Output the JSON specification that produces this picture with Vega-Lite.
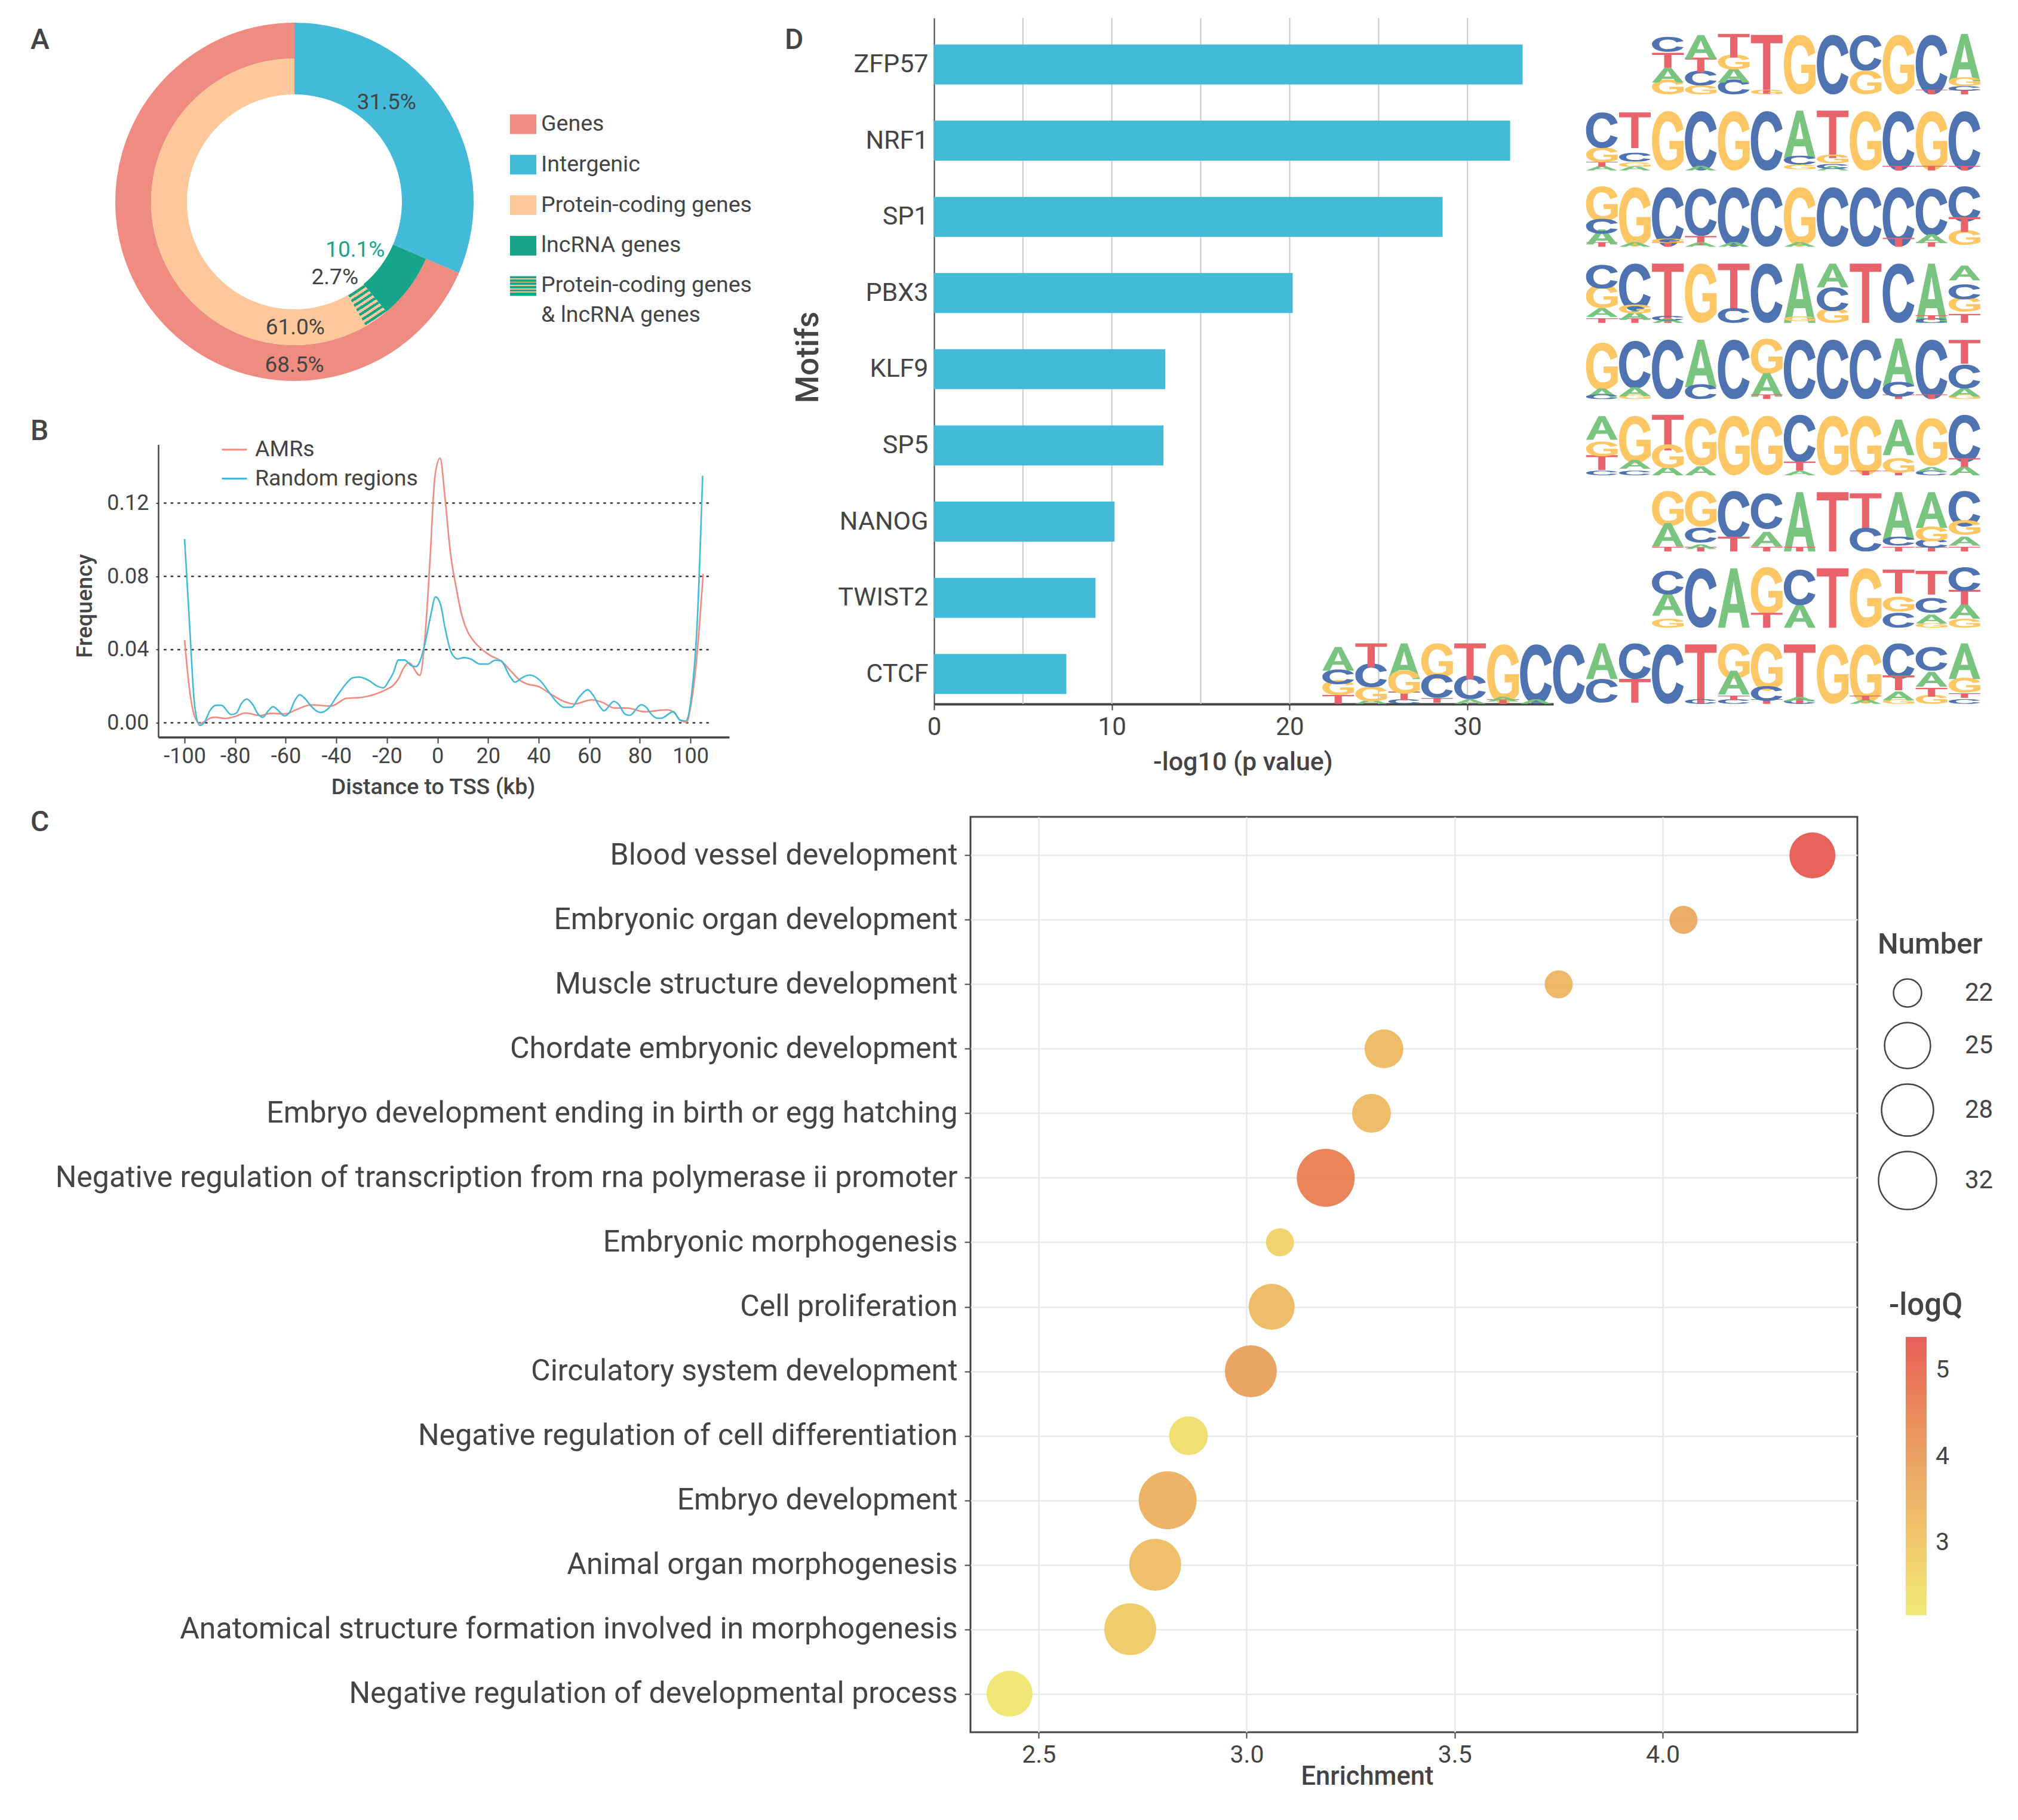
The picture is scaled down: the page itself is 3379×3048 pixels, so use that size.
{"$schema":"https://vega.github.io/schema/vega-lite/v6.json","background":"white","padding":{"left":49,"top":29,"right":0,"bottom":0},"config":{"font":"Roboto","view":{"stroke":null},"axis":{"labelColor":"#444","titleColor":"#444","domainColor":"#444","tickColor":"#444","grid":false,"labelFont":"Roboto","titleFont":"Roboto","titleFontWeight":500},"legend":{"labelColor":"#444","titleColor":"#444","labelFont":"Roboto","titleFont":"Roboto"},"title":{"color":"#444","font":"Roboto","fontWeight":500,"fontSize":48,"anchor":"start","frame":"group","offset":0}},
"spacing":15,"resolve":{"scale":{"color":"independent","size":"independent","shape":"independent","theta":"independent","radius":"independent"}},"vconcat":[
{"spacing":55,"resolve":{"scale":{"color":"independent","size":"independent","shape":"independent","theta":"independent","radius":"independent"}},"hconcat":[
{"spacing":52.5,"resolve":{"scale":{"color":"independent","size":"independent","shape":"independent","theta":"independent","radius":"independent"}},"vconcat":[
{"title":{"text":"A","dx":-142,"dy":66},"width":600,"height":616,"layer":[
{"data":{"name":"donut"},"transform":[{"filter":"datum.ring==='full'"}],"mark":{"type":"arc","outerRadius":300,"innerRadius":180},"encoding":{"theta":{"field":"start","type":"quantitative","scale":{"domain":[0,100]}},"theta2":{"field":"end"},"color":{"field":"category","type":"nominal","scale":{"domain":["Genes","Intergenic","Protein-coding genes","lncRNA genes"],"range":["#ef8b80","#42bad8","#fec89a","#17a589"]},"legend":{"orient":"none","legendX":661,"legendY":156,"title":null,"symbolType":"M-1 -.75H1V.75H-1Z","symbolSize":1936,"symbolStrokeWidth":0,"labelFontSize":37.5,"labelLimit":600,"labelOffset":8,"rowPadding":26.8,"labelBaseline":"middle"}}}},
{"data":{"name":"donut"},"transform":[{"filter":"datum.ring==='outer'"}],"mark":{"type":"arc","outerRadius":300,"innerRadius":240},"encoding":{"theta":{"field":"start","type":"quantitative","scale":{"domain":[0,100]}},"theta2":{"field":"end"},"color":{"field":"category","type":"nominal"}}},
{"data":{"name":"donut"},"transform":[{"filter":"datum.ring==='inner'"}],"mark":{"type":"arc","outerRadius":240,"innerRadius":180},"encoding":{"theta":{"field":"start","type":"quantitative","scale":{"domain":[0,100]}},"theta2":{"field":"end"},"color":{"field":"category","type":"nominal"}}},
{"data":{"name":"donut"},"transform":[{"filter":"datum.ring==='hatch'"}],"mark":{"type":"arc","outerRadius":240,"innerRadius":180,"fill":{"gradient":"linear","x1":0.2,"y1":0,"x2":0.8,"y2":1,"stops":[{"offset":0,"color":"#17a589"},{"offset":0.056,"color":"#17a589"},{"offset":0.056,"color":"#fec89a"},{"offset":0.111,"color":"#fec89a"},{"offset":0.111,"color":"#17a589"},{"offset":0.167,"color":"#17a589"},{"offset":0.167,"color":"#fec89a"},{"offset":0.222,"color":"#fec89a"},{"offset":0.222,"color":"#17a589"},{"offset":0.278,"color":"#17a589"},{"offset":0.278,"color":"#fec89a"},{"offset":0.333,"color":"#fec89a"},{"offset":0.333,"color":"#17a589"},{"offset":0.389,"color":"#17a589"},{"offset":0.389,"color":"#fec89a"},{"offset":0.444,"color":"#fec89a"},{"offset":0.444,"color":"#17a589"},{"offset":0.5,"color":"#17a589"},{"offset":0.5,"color":"#fec89a"},{"offset":0.556,"color":"#fec89a"},{"offset":0.556,"color":"#17a589"},{"offset":0.611,"color":"#17a589"},{"offset":0.611,"color":"#fec89a"},{"offset":0.667,"color":"#fec89a"},{"offset":0.667,"color":"#17a589"},{"offset":0.722,"color":"#17a589"},{"offset":0.722,"color":"#fec89a"},{"offset":0.778,"color":"#fec89a"},{"offset":0.778,"color":"#17a589"},{"offset":0.833,"color":"#17a589"},{"offset":0.833,"color":"#fec89a"},{"offset":0.889,"color":"#fec89a"},{"offset":0.889,"color":"#17a589"},{"offset":0.944,"color":"#17a589"},{"offset":0.944,"color":"#fec89a"},{"offset":1,"color":"#fec89a"}]}},"encoding":{"theta":{"field":"start","type":"quantitative","scale":{"domain":[0,100]}},"theta2":{"field":"end"}}},
{"data":{"name":"donut"},"transform":[{"filter":"datum.ring==='hatch'"}],"mark":{"type":"point","filled":true,"opacity":0,"fill":{"gradient":"linear","x1":0,"y1":0,"x2":0,"y2":1,"stops":[{"offset":0,"color":"#17a589"},{"offset":0.11,"color":"#17a589"},{"offset":0.11,"color":"#fec89a"},{"offset":0.167,"color":"#fec89a"},{"offset":0.167,"color":"#17a589"},{"offset":0.278,"color":"#17a589"},{"offset":0.278,"color":"#fec89a"},{"offset":0.333,"color":"#fec89a"},{"offset":0.333,"color":"#17a589"},{"offset":0.444,"color":"#17a589"},{"offset":0.444,"color":"#fec89a"},{"offset":0.5,"color":"#fec89a"},{"offset":0.5,"color":"#17a589"},{"offset":0.611,"color":"#17a589"},{"offset":0.611,"color":"#fec89a"},{"offset":0.667,"color":"#fec89a"},{"offset":0.667,"color":"#17a589"},{"offset":0.778,"color":"#17a589"},{"offset":0.778,"color":"#fec89a"},{"offset":0.833,"color":"#fec89a"},{"offset":0.833,"color":"#17a589"},{"offset":1,"color":"#17a589"}]}},"encoding":{"shape":{"field":"category","type":"nominal","scale":{"range":["M-1 -.75H1V.75H-1Z"]},"legend":{"orient":"none","legendX":661,"legendY":427,"title":null,"symbolSize":1936,"symbolStrokeWidth":0,"symbolOpacity":1,"labelFontSize":37.5,"labelLimit":600,"labelOffset":8,"labelBaseline":"top","labelExpr":"['Protein-coding genes','& lncRNA genes']","encoding":{"labels":{"dy":{"value":-20},"lineHeight":{"value":50}}}}}}},
{"data":{"values":[{"label":"31.5%","pos":11.9,"r":227},{"label":"10.1%","pos":35.7,"r":130},{"label":"2.7%","pos":42.2,"r":144},{"label":"61.0%","pos":49.9,"r":211},{"label":"68.5%","pos":50,"r":274}]},"mark":{"type":"text","fontSize":37,"align":"center","baseline":"middle"},"encoding":{"theta":{"field":"pos","type":"quantitative","stack":null,"scale":{"domain":[0,100]}},"radius":{"field":"r","type":"quantitative","stack":null,"scale":{"type":"linear","domain":[0,300],"range":[0,300]}},"text":{"field":"label"},"color":{"condition":{"test":"datum.label==='10.1%'","value":"#17a589"},"value":"#444"}}}
]},
{"bounds":"flush","spacing":71,"resolve":{"scale":{"color":"independent"}},"hconcat":[
{"width":1,"height":10,"data":{"values":[{"a":1}]},"mark":{"type":"point","opacity":0},"encoding":{}},
{"title":{"text":"B","dx":-214,"dy":20},"width":956,"height":490,"encoding":{"x":{"field":"kb","type":"quantitative","title":"Distance to TSS (kb)","scale":{"domain":[-110.4,115.3],"nice":false,"zero":false},"axis":{"values":[-100,-80,-60,-40,-20,0,20,40,60,80,100],"labelExpr":"''+datum.value","labelFontSize":36,"labelFlush":false,"labelPadding":5,"tickSize":10,"tickWidth":2,"domainWidth":3.5,"titleFontSize":37.5,"titleX":460,"titleY":65,"titleBaseline":"top"}},"y":{"field":"freq","type":"quantitative","title":"Frequency","scale":{"domain":[-0.0078,0.152],"nice":false,"zero":false},"axis":{"values":[0,0.04,0.08,0.12],"format":".2f","labelFontSize":36,"labelPadding":12,"tickSize":4,"tickWidth":2,"domainWidth":2.5,"titleFontSize":37.5,"titleX":-104,"titleY":270}}},"layer":[
{"data":{"values":[{"freq":0,"kb":-108,"end":107},{"freq":0.04,"kb":-108,"end":107},{"freq":0.08,"kb":-108,"end":107},{"freq":0.12,"kb":-108,"end":107}]},"mark":{"type":"rule","strokeDash":[2.5,9],"strokeWidth":2.5,"color":"#333","strokeCap":"round"},"encoding":{"x2":{"field":"end"}}},
{"data":{"name":"profile"},"mark":{"type":"line","interpolate":"monotone","strokeWidth":2.6},"encoding":{"color":{"field":"series","type":"nominal","scale":{"domain":["AMRs","Random regions"],"range":["#ef8b80","#42bad8"]},"legend":{"orient":"none","legendX":105,"legendY":-14,"title":null,"symbolType":"stroke","symbolSize":1764,"symbolStrokeWidth":3,"labelFontSize":37.5,"labelOffset":12,"rowPadding":7.5,"labelLimit":500}}}}
]}
]}
]},
{"title":{"text":"D","dx":-250,"dy":67},"width":1753,"height":1149,"resolve":{"scale":{"x":"independent"},"axis":{"x":"independent"}},"layer":[
{"data":{"values":[{"v":5},{"v":10},{"v":15},{"v":20},{"v":25},{"v":30}]},"mark":{"type":"rule","color":"#c9c9c9","strokeWidth":2},"encoding":{"x":{"field":"v","type":"quantitative","axis":null,"scale":{"domain":[0,34.83],"range":[0,1037],"nice":false}}}},
{"data":{"values":[{"motif":"ZFP57","p":33.1},{"motif":"NRF1","p":32.4},{"motif":"SP1","p":28.6},{"motif":"PBX3","p":20.17},{"motif":"KLF9","p":13.0},{"motif":"SP5","p":12.9},{"motif":"NANOG","p":10.15},{"motif":"TWIST2","p":9.08},{"motif":"CTCF","p":7.44}]},"mark":{"type":"bar","color":"#42bad8","height":67},"encoding":{"x":{"field":"p","type":"quantitative","title":"-log10 (p value)","scale":{"domain":[0,34.83],"range":[0,1037],"nice":false},"axis":{"values":[0,10,20,30],"labelFontSize":42,"labelPadding":8,"tickSize":10,"tickWidth":2,"domainWidth":4,"titleFontSize":43,"titleX":517,"titleY":76,"titleBaseline":"top","labelFlush":false}},"y":{"field":"motif","type":"nominal","title":"Motifs","sort":["ZFP57","NRF1","SP1","PBX3","KLF9","SP5","NANOG","TWIST2","CTCF"],"scale":{"type":"band","domain":["ZFP57","NRF1","SP1","PBX3","KLF9","SP5","NANOG","TWIST2","CTCF"],"paddingInner":0.475,"paddingOuter":0.24,"align":0.726},"axis":{"labelFontSize":43,"labelPadding":10,"ticks":false,"domainWidth":2,"titleFontSize":53,"titleX":-184,"titleY":568}}}},
{"data":{"name":"logos"},"transform":[{"calculate":"datum.l+datum.k","as":"code"}],"mark":{"type":"point","filled":true,"opacity":1,"strokeWidth":0},"encoding":{"x":{"field":"p","type":"quantitative","axis":null,"scale":{"domain":[32.26,0.5],"nice":false,"zero":false}},"y":{"field":"m","type":"nominal","title":"Motifs","sort":["ZFP57","NRF1","SP1","PBX3","KLF9","SP5","NANOG","TWIST2","CTCF"],"scale":{"type":"band"}},"yOffset":{"field":"b","type":"quantitative","scale":{"domain":[0,100],"range":[83.5,-15.5]}},"size":{"value":12188},"color":{"field":"l","type":"nominal","legend":null,"scale":{"domain":["A","C","G","T"],"range":["#79c47f","#4f72b0","#fdc765","#e8646a"]}},"shape":{"field":"code","type":"nominal","legend":null,"scale":{"domain":["A100","A80","A60","A40","A25","A15","A8","T100","T80","T60","T40","T25","T15","T8","C100","C80","C60","C40","C25","C15","C8","G100","G80","G60","G40","G25","G15","G8"],"range":[
"M-.48 0L-.1 -1.8L.1 -1.8L.48 0L.26 0L.17 -.45L-.17 -.45L-.26 0ZM-.11 -.72L.11 -.72L0 -1.4Z",
"M-.48 0L-.1 -1.44L.1 -1.44L.48 0L.26 0L.17 -.36L-.17 -.36L-.26 0ZM-.11 -.58L.11 -.58L0 -1.12Z",
"M-.48 0L-.1 -1.08L.1 -1.08L.48 0L.26 0L.17 -.27L-.17 -.27L-.26 0ZM-.11 -.43L.11 -.43L0 -.84Z",
"M-.48 0L-.1 -.72L.1 -.72L.48 0L.26 0L.17 -.18L-.17 -.18L-.26 0ZM-.11 -.29L.11 -.29L0 -.56Z",
"M-.48 0L-.1 -.45L.1 -.45L.48 0L.26 0L.17 -.11L-.17 -.11L-.26 0ZM-.11 -.18L.11 -.18L0 -.35Z",
"M-.48 0L-.1 -.27L.1 -.27L.48 0L.26 0L.17 -.07L-.17 -.07L-.26 0ZM-.11 -.11L.11 -.11L0 -.21Z",
"M-.48 0L-.1 -.14L.1 -.14L.48 0L.26 0L.17 -.04L-.17 -.04L-.26 0ZM-.11 -.06L.11 -.06L0 -.11Z",
"M-.48 -1.8L.48 -1.8L.48 -1.55L.11 -1.55L.11 0L-.11 0L-.11 -1.55L-.48 -1.55Z",
"M-.48 -1.44L.48 -1.44L.48 -1.24L.11 -1.24L.11 0L-.11 0L-.11 -1.24L-.48 -1.24Z",
"M-.48 -1.08L.48 -1.08L.48 -.93L.11 -.93L.11 0L-.11 0L-.11 -.93L-.48 -.93Z",
"M-.48 -.72L.48 -.72L.48 -.62L.11 -.62L.11 0L-.11 0L-.11 -.62L-.48 -.62Z",
"M-.48 -.45L.48 -.45L.48 -.39L.11 -.39L.11 0L-.11 0L-.11 -.39L-.48 -.39Z",
"M-.48 -.27L.48 -.27L.48 -.23L.11 -.23L.11 0L-.11 0L-.11 -.23L-.48 -.23Z",
"M-.48 -.14L.48 -.14L.48 -.12L.11 -.12L.11 0L-.11 0L-.11 -.12L-.48 -.12Z",
"M.48 -1.26C.4 -1.66 .24 -1.8 0 -1.8C-.3 -1.8 -.48 -1.4 -.48 -.9C-.48 -.4 -.3 0 0 0C.24 0 .4 -.14 .48 -.54L.26 -.65C.22 -.43 .12 -.31 0 -.31C-.16 -.31 -.26 -.54 -.26 -.9C-.26 -1.26 -.16 -1.49 0 -1.49C.12 -1.49 .22 -1.37 .26 -1.15Z",
"M.48 -1.01C.4 -1.32 .24 -1.44 0 -1.44C-.3 -1.44 -.48 -1.12 -.48 -.72C-.48 -.32 -.3 0 0 0C.24 0 .4 -.12 .48 -.43L.26 -.52C.22 -.35 .12 -.24 0 -.24C-.16 -.24 -.26 -.43 -.26 -.72C-.26 -1.01 -.16 -1.2 0 -1.2C.12 -1.2 .22 -1.09 .26 -.92Z",
"M.48 -.76C.4 -.99 .24 -1.08 0 -1.08C-.3 -1.08 -.48 -.84 -.48 -.54C-.48 -.24 -.3 0 0 0C.24 0 .4 -.09 .48 -.32L.26 -.39C.22 -.26 .12 -.18 0 -.18C-.16 -.18 -.26 -.32 -.26 -.54C-.26 -.76 -.16 -.9 0 -.9C.12 -.9 .22 -.82 .26 -.69Z",
"M.48 -.5C.4 -.66 .24 -.72 0 -.72C-.3 -.72 -.48 -.56 -.48 -.36C-.48 -.16 -.3 0 0 0C.24 0 .4 -.06 .48 -.22L.26 -.26C.22 -.17 .12 -.12 0 -.12C-.16 -.12 -.26 -.22 -.26 -.36C-.26 -.5 -.16 -.6 0 -.6C.12 -.6 .22 -.55 .26 -.46Z",
"M.48 -.32C.4 -.41 .24 -.45 0 -.45C-.3 -.45 -.48 -.35 -.48 -.23C-.48 -.1 -.3 0 0 0C.24 0 .4 -.04 .48 -.14L.26 -.16C.22 -.11 .12 -.08 0 -.08C-.16 -.08 -.26 -.14 -.26 -.23C-.26 -.32 -.16 -.37 0 -.37C.12 -.37 .22 -.34 .26 -.29Z",
"M.48 -.19C.4 -.25 .24 -.27 0 -.27C-.3 -.27 -.48 -.21 -.48 -.14C-.48 -.06 -.3 0 0 0C.24 0 .4 -.02 .48 -.08L.26 -.1C.22 -.06 .12 -.05 0 -.05C-.16 -.05 -.26 -.08 -.26 -.14C-.26 -.19 -.16 -.22 0 -.22C.12 -.22 .22 -.21 .26 -.17Z",
"M.48 -.1C.4 -.13 .24 -.14 0 -.14C-.3 -.14 -.48 -.11 -.48 -.07C-.48 -.03 -.3 0 0 0C.24 0 .4 -.01 .48 -.04L.26 -.05C.22 -.03 .12 -.02 0 -.02C-.16 -.02 -.26 -.04 -.26 -.07C-.26 -.1 -.16 -.12 0 -.12C.12 -.12 .22 -.11 .26 -.09Z",
"M.48 -1.26C.4 -1.66 .24 -1.8 0 -1.8C-.3 -1.8 -.48 -1.4 -.48 -.9C-.48 -.4 -.3 0 0 0C.2 0 .36 -.14 .48 -.31L.48 -.9L.05 -.9L.05 -.65L.27 -.65L.27 -.43C.2 -.31 .1 -.31 0 -.31C-.16 -.31 -.26 -.54 -.26 -.9C-.26 -1.26 -.16 -1.49 0 -1.49C.12 -1.49 .22 -1.37 .26 -1.15Z",
"M.48 -1.01C.4 -1.32 .24 -1.44 0 -1.44C-.3 -1.44 -.48 -1.12 -.48 -.72C-.48 -.32 -.3 0 0 0C.2 0 .36 -.12 .48 -.24L.48 -.72L.05 -.72L.05 -.52L.27 -.52L.27 -.35C.2 -.24 .1 -.24 0 -.24C-.16 -.24 -.26 -.43 -.26 -.72C-.26 -1.01 -.16 -1.2 0 -1.2C.12 -1.2 .22 -1.09 .26 -.92Z",
"M.48 -.76C.4 -.99 .24 -1.08 0 -1.08C-.3 -1.08 -.48 -.84 -.48 -.54C-.48 -.24 -.3 0 0 0C.2 0 .36 -.09 .48 -.18L.48 -.54L.05 -.54L.05 -.39L.27 -.39L.27 -.26C.2 -.18 .1 -.18 0 -.18C-.16 -.18 -.26 -.32 -.26 -.54C-.26 -.76 -.16 -.9 0 -.9C.12 -.9 .22 -.82 .26 -.69Z",
"M.48 -.5C.4 -.66 .24 -.72 0 -.72C-.3 -.72 -.48 -.56 -.48 -.36C-.48 -.16 -.3 0 0 0C.2 0 .36 -.06 .48 -.12L.48 -.36L.05 -.36L.05 -.26L.27 -.26L.27 -.17C.2 -.12 .1 -.12 0 -.12C-.16 -.12 -.26 -.22 -.26 -.36C-.26 -.5 -.16 -.6 0 -.6C.12 -.6 .22 -.55 .26 -.46Z",
"M.48 -.32C.4 -.41 .24 -.45 0 -.45C-.3 -.45 -.48 -.35 -.48 -.23C-.48 -.1 -.3 0 0 0C.2 0 .36 -.04 .48 -.08L.48 -.23L.05 -.23L.05 -.16L.27 -.16L.27 -.11C.2 -.08 .1 -.08 0 -.08C-.16 -.08 -.26 -.14 -.26 -.23C-.26 -.32 -.16 -.37 0 -.37C.12 -.37 .22 -.34 .26 -.29Z",
"M.48 -.19C.4 -.25 .24 -.27 0 -.27C-.3 -.27 -.48 -.21 -.48 -.14C-.48 -.06 -.3 0 0 0C.2 0 .36 -.02 .48 -.05L.48 -.14L.05 -.14L.05 -.1L.27 -.1L.27 -.06C.2 -.05 .1 -.05 0 -.05C-.16 -.05 -.26 -.08 -.26 -.14C-.26 -.19 -.16 -.22 0 -.22C.12 -.22 .22 -.21 .26 -.17Z",
"M.48 -.1C.4 -.13 .24 -.14 0 -.14C-.3 -.14 -.48 -.11 -.48 -.07C-.48 -.03 -.3 0 0 0C.2 0 .36 -.01 .48 -.02L.48 -.07L.05 -.07L.05 -.05L.27 -.05L.27 -.03C.2 -.02 .1 -.02 0 -.02C-.16 -.02 -.26 -.04 -.26 -.07C-.26 -.1 -.16 -.12 0 -.12C.12 -.12 .22 -.11 .26 -.09Z"
]}}}}
]}
]},
{"bounds":"flush","spacing":0,"resolve":{"scale":{"color":"independent","size":"independent"}},"hconcat":[
{"width":1432,"height":10,"data":{"values":[{"a":1}]},"mark":{"type":"point","opacity":0},"encoding":{}},
{"title":{"text":"C","dx":-1574,"dy":37.5},"width":1485,"height":1533,"view":{"stroke":"#444","strokeWidth":3},"data":{"name":"terms"},"mark":{"type":"circle","opacity":0.92},"encoding":{"x":{"field":"enrichment","type":"quantitative","title":"Enrichment","scale":{"domain":[2.336,4.468],"nice":false,"zero":false},"axis":{"values":[2.5,3,3.5,4],"format":".1f","grid":true,"gridColor":"#e8e8e8","gridWidth":2.5,"domain":false,"labelFontSize":41,"labelPadding":8,"tickSize":10,"tickWidth":2,"titleFontSize":43.5,"titleX":664,"titleY":53,"titleBaseline":"top"}},"y":{"field":"term","type":"ordinal","title":null,"sort":null,"scale":{"type":"point","padding":0.597},"axis":{"grid":true,"gridColor":"#e8e8e8","gridWidth":2.5,"domain":false,"labelFontSize":50,"labelLimit":2000,"labelPadding":12,"tickSize":10,"tickWidth":2}},"size":{"field":"number","type":"quantitative","scale":{"domain":[22,24,25,28,32],"range":[2209,4225,5929,7569,9409],"zero":false},"legend":{"orient":"none","legendX":1519,"legendY":190,"title":"Number","titleFontSize":49,"titleFontWeight":500,"titlePadding":31,"labelFontSize":42,"values":[22,25,28,32],"symbolFillColor":"transparent","symbolStrokeColor":"#444","symbolStrokeWidth":2.5,"symbolOpacity":1,"rowPadding":15,"labelOffset":46}},"color":{"field":"logQ","type":"quantitative","scale":{"domain":[2.16,3.8,5.39],"range":["#eee86c","#e8a25a","#e44f4b"]},"legend":{"orient":"none","legendX":1538,"legendY":794,"direction":"vertical","title":"-logQ","titleFontSize":51,"titleFontWeight":500,"titlePadding":26,"labelFontSize":41,"labelOffset":15,"gradientLength":466,"gradientThickness":35,"gradientStrokeWidth":0,"values":[3,4,5],"format":"d","encoding":{"title":{"dx":{"value":-28}}}}}}}
]}
],
"datasets":{
"donut":[{"category":"Intergenic","ring":"full","start":0,"end":31.5},{"category":"Genes","ring":"outer","start":31.5,"end":100},{"category":"lncRNA genes","ring":"inner","start":31.5,"end":38.9},{"category":"Protein-coding genes","ring":"inner","start":41.7,"end":100},{"category":"Protein-coding genes & lncRNA genes","ring":"hatch","start":38.9,"end":41.7}],
"terms":[{"term":"Blood vessel development","enrichment":4.36,"number":25,"logQ":5.3},{"term":"Embryonic organ development","enrichment":4.05,"number":22,"logQ":3.7},{"term":"Muscle structure development","enrichment":3.75,"number":22,"logQ":3.4},{"term":"Chordate embryonic development","enrichment":3.33,"number":24,"logQ":3.3},{"term":"Embryo development ending in birth or egg hatching","enrichment":3.3,"number":24,"logQ":3.3},{"term":"Negative regulation of transcription from rna polymerase ii promoter","enrichment":3.19,"number":32,"logQ":4.6},{"term":"Embryonic morphogenesis","enrichment":3.08,"number":22,"logQ":2.7},{"term":"Cell proliferation","enrichment":3.06,"number":25,"logQ":3.3},{"term":"Circulatory system development","enrichment":3.01,"number":28,"logQ":3.9},{"term":"Negative regulation of cell differentiation","enrichment":2.86,"number":24,"logQ":2.4},{"term":"Embryo development","enrichment":2.81,"number":32,"logQ":3.5},{"term":"Animal organ morphogenesis","enrichment":2.78,"number":28,"logQ":3.2},{"term":"Anatomical structure formation involved in morphogenesis","enrichment":2.72,"number":28,"logQ":2.9},{"term":"Negative regulation of developmental process","enrichment":2.43,"number":25,"logQ":2.2}],
"profile":[
{"series":"AMRs","kb":-100,"freq":0.0452},{"series":"AMRs","kb":-98,"freq":0.0177},{"series":"AMRs","kb":-96,"freq":0.0035},{"series":"AMRs","kb":-94,"freq":-0.0004},{"series":"AMRs","kb":-92,"freq":0.0007},{"series":"AMRs","kb":-90,"freq":0.0025},{"series":"AMRs","kb":-88,"freq":0.0031},{"series":"AMRs","kb":-84,"freq":0.0024},{"series":"AMRs","kb":-80,"freq":0.0035},{"series":"AMRs","kb":-76,"freq":0.0054},{"series":"AMRs","kb":-70,"freq":0.004},{"series":"AMRs","kb":-66,"freq":0.0052},{"series":"AMRs","kb":-60,"freq":0.0049},{"series":"AMRs","kb":-56,"freq":0.0071},{"series":"AMRs","kb":-50,"freq":0.0098},{"series":"AMRs","kb":-42,"freq":0.0092},{"series":"AMRs","kb":-36,"freq":0.0134},{"series":"AMRs","kb":-30,"freq":0.0139},{"series":"AMRs","kb":-25,"freq":0.0155},{"series":"AMRs","kb":-20,"freq":0.0184},{"series":"AMRs","kb":-17.5,"freq":0.0205},{"series":"AMRs","kb":-15.5,"freq":0.024},{"series":"AMRs","kb":-13.5,"freq":0.0297},{"series":"AMRs","kb":-11.4,"freq":0.0329},{"series":"AMRs","kb":-7,"freq":0.0259},{"series":"AMRs","kb":-5,"freq":0.046},{"series":"AMRs","kb":-3,"freq":0.0883},{"series":"AMRs","kb":-1,"freq":0.135},{"series":"AMRs","kb":1,"freq":0.1446},{"series":"AMRs","kb":3,"freq":0.1222},{"series":"AMRs","kb":5,"freq":0.094},{"series":"AMRs","kb":7.5,"freq":0.0728},{"series":"AMRs","kb":9.6,"freq":0.0587},{"series":"AMRs","kb":12,"freq":0.0495},{"series":"AMRs","kb":14,"freq":0.0452},{"series":"AMRs","kb":18,"freq":0.0396},{"series":"AMRs","kb":21,"freq":0.0367},{"series":"AMRs","kb":25,"freq":0.0339},{"series":"AMRs","kb":29,"freq":0.0283},{"series":"AMRs","kb":32.5,"freq":0.0233},{"series":"AMRs","kb":35.5,"freq":0.0212},{"series":"AMRs","kb":40,"freq":0.0198},{"series":"AMRs","kb":45,"freq":0.0155},{"series":"AMRs","kb":50,"freq":0.0117},{"series":"AMRs","kb":54,"freq":0.0103},{"series":"AMRs","kb":61,"freq":0.0126},{"series":"AMRs","kb":65,"freq":0.0113},{"series":"AMRs","kb":70,"freq":0.0081},{"series":"AMRs","kb":75,"freq":0.0081},{"series":"AMRs","kb":81.5,"freq":0.0061},{"series":"AMRs","kb":91,"freq":0.0071},{"series":"AMRs","kb":94,"freq":0.0049},{"series":"AMRs","kb":96,"freq":0.0014},{"series":"AMRs","kb":98.5,"freq":0.0004},{"series":"AMRs","kb":100,"freq":0.0085},{"series":"AMRs","kb":102,"freq":0.029},{"series":"AMRs","kb":105,"freq":0.0813},
{"series":"Random regions","kb":-100,"freq":0.1004},{"series":"Random regions","kb":-98,"freq":0.053},{"series":"Random regions","kb":-96,"freq":0.0092},{"series":"Random regions","kb":-94,"freq":-0.0014},{"series":"Random regions","kb":-92,"freq":0.0007},{"series":"Random regions","kb":-90,"freq":0.0066},{"series":"Random regions","kb":-87.5,"freq":0.0096},{"series":"Random regions","kb":-85.5,"freq":0.0096},{"series":"Random regions","kb":-81.5,"freq":0.0045},{"series":"Random regions","kb":-79.5,"freq":0.0054},{"series":"Random regions","kb":-77.5,"freq":0.0106},{"series":"Random regions","kb":-75.5,"freq":0.013},{"series":"Random regions","kb":-73,"freq":0.0099},{"series":"Random regions","kb":-71,"freq":0.0049},{"series":"Random regions","kb":-69,"freq":0.0031},{"series":"Random regions","kb":-67,"freq":0.0064},{"series":"Random regions","kb":-65,"freq":0.0088},{"series":"Random regions","kb":-63,"freq":0.0068},{"series":"Random regions","kb":-60.5,"freq":0.0038},{"series":"Random regions","kb":-58.5,"freq":0.0057},{"series":"Random regions","kb":-56.5,"freq":0.012},{"series":"Random regions","kb":-54.5,"freq":0.0153},{"series":"Random regions","kb":-52.5,"freq":0.0134},{"series":"Random regions","kb":-50,"freq":0.0092},{"series":"Random regions","kb":-48,"freq":0.0066},{"series":"Random regions","kb":-46,"freq":0.0057},{"series":"Random regions","kb":-43,"freq":0.0081},{"series":"Random regions","kb":-40,"freq":0.0141},{"series":"Random regions","kb":-36,"freq":0.0216},{"series":"Random regions","kb":-33.7,"freq":0.0245},{"series":"Random regions","kb":-31,"freq":0.025},{"series":"Random regions","kb":-27,"freq":0.023},{"series":"Random regions","kb":-24,"freq":0.0202},{"series":"Random regions","kb":-21.3,"freq":0.0191},{"series":"Random regions","kb":-19.4,"freq":0.0226},{"series":"Random regions","kb":-17.4,"freq":0.0276},{"series":"Random regions","kb":-15.5,"freq":0.0343},{"series":"Random regions","kb":-13,"freq":0.0343},{"series":"Random regions","kb":-10.6,"freq":0.0315},{"series":"Random regions","kb":-8.6,"freq":0.0307},{"series":"Random regions","kb":-7,"freq":0.0335},{"series":"Random regions","kb":-5,"freq":0.0431},{"series":"Random regions","kb":-2.7,"freq":0.0587},{"series":"Random regions","kb":-0.8,"freq":0.0688},{"series":"Random regions","kb":1.2,"freq":0.0646},{"series":"Random regions","kb":3,"freq":0.0516},{"series":"Random regions","kb":5.5,"freq":0.0382},{"series":"Random regions","kb":8,"freq":0.0349},{"series":"Random regions","kb":10.4,"freq":0.0356},{"series":"Random regions","kb":13,"freq":0.0349},{"series":"Random regions","kb":16.8,"freq":0.0321},{"series":"Random regions","kb":19.8,"freq":0.0321},{"series":"Random regions","kb":22.7,"freq":0.0342},{"series":"Random regions","kb":25,"freq":0.0339},{"series":"Random regions","kb":28.6,"freq":0.0254},{"series":"Random regions","kb":30.6,"freq":0.0222},{"series":"Random regions","kb":33.5,"freq":0.0247},{"series":"Random regions","kb":36.4,"freq":0.0261},{"series":"Random regions","kb":40.4,"freq":0.0233},{"series":"Random regions","kb":44.3,"freq":0.0163},{"series":"Random regions","kb":47.2,"freq":0.0113},{"series":"Random regions","kb":50,"freq":0.0085},{"series":"Random regions","kb":53,"freq":0.0085},{"series":"Random regions","kb":56,"freq":0.0141},{"series":"Random regions","kb":59.4,"freq":0.0181},{"series":"Random regions","kb":61.3,"freq":0.0155},{"series":"Random regions","kb":64,"freq":0.0092},{"series":"Random regions","kb":65.8,"freq":0.0066},{"series":"Random regions","kb":69.7,"freq":0.0117},{"series":"Random regions","kb":71.7,"freq":0.0099},{"series":"Random regions","kb":74,"freq":0.0049},{"series":"Random regions","kb":76,"freq":0.0041},{"series":"Random regions","kb":80.5,"freq":0.0099},{"series":"Random regions","kb":82.5,"freq":0.0085},{"series":"Random regions","kb":84.4,"freq":0.0049},{"series":"Random regions","kb":87,"freq":0.0025},{"series":"Random regions","kb":88.3,"freq":0.0025},{"series":"Random regions","kb":93.3,"freq":0.0061},{"series":"Random regions","kb":95.6,"freq":0.0017},{"series":"Random regions","kb":98.1,"freq":0.001},{"series":"Random regions","kb":100.5,"freq":0.0163},{"series":"Random regions","kb":102.6,"freq":0.053},{"series":"Random regions","kb":104.8,"freq":0.135}],
"logos":[
{"m":"ZFP57","p":10,"l":"G","k":25,"b":0},{"m":"ZFP57","p":10,"l":"A","k":25,"b":20},{"m":"ZFP57","p":10,"l":"T","k":25,"b":45},{"m":"ZFP57","p":10,"l":"C","k":25,"b":72},
{"m":"ZFP57","p":9,"l":"G","k":15,"b":0},{"m":"ZFP57","p":9,"l":"C","k":25,"b":15},{"m":"ZFP57","p":9,"l":"T","k":25,"b":37},{"m":"ZFP57","p":9,"l":"A","k":40,"b":60},
{"m":"ZFP57","p":8,"l":"C","k":25,"b":0},{"m":"ZFP57","p":8,"l":"A","k":25,"b":20},{"m":"ZFP57","p":8,"l":"G","k":25,"b":42},{"m":"ZFP57","p":8,"l":"T","k":40,"b":62},
{"m":"ZFP57","p":7,"l":"T","k":100,"b":0},{"m":"ZFP57","p":7,"l":"G","k":8,"b":0},
{"m":"ZFP57","p":6,"l":"G","k":100,"b":0},{"m":"ZFP57","p":5,"l":"C","k":100,"b":0},
{"m":"ZFP57","p":4,"l":"C","k":60,"b":40},{"m":"ZFP57","p":4,"l":"G","k":40,"b":0},
{"m":"ZFP57","p":3,"l":"G","k":100,"b":0},
{"m":"ZFP57","p":2,"l":"C","k":100,"b":0},{"m":"ZFP57","p":2,"l":"T","k":8,"b":0},
{"m":"ZFP57","p":1,"l":"A","k":80,"b":22},{"m":"ZFP57","p":1,"l":"T","k":8,"b":0},{"m":"ZFP57","p":1,"l":"C","k":8,"b":6},{"m":"ZFP57","p":1,"l":"G","k":15,"b":14},
{"m":"NRF1","p":12,"l":"A","k":8,"b":0},{"m":"NRF1","p":12,"l":"T","k":8,"b":7},{"m":"NRF1","p":12,"l":"G","k":25,"b":14},{"m":"NRF1","p":12,"l":"C","k":60,"b":38},
{"m":"NRF1","p":11,"l":"T","k":60,"b":38},{"m":"NRF1","p":11,"l":"A","k":8,"b":0},{"m":"NRF1","p":11,"l":"G","k":8,"b":6},{"m":"NRF1","p":11,"l":"C","k":15,"b":15},
{"m":"NRF1","p":10,"l":"G","k":100,"b":0},{"m":"NRF1","p":9,"l":"C","k":100,"b":0},{"m":"NRF1","p":9,"l":"A","k":8,"b":0},{"m":"NRF1","p":8,"l":"G","k":100,"b":0},{"m":"NRF1","p":7,"l":"C","k":100,"b":0},
{"m":"NRF1","p":6,"l":"A","k":80,"b":21},{"m":"NRF1","p":6,"l":"G","k":8,"b":2},{"m":"NRF1","p":6,"l":"C","k":15,"b":10},
{"m":"NRF1","p":5,"l":"T","k":80,"b":21},{"m":"NRF1","p":5,"l":"A","k":8,"b":0},{"m":"NRF1","p":5,"l":"C","k":8,"b":3},{"m":"NRF1","p":5,"l":"G","k":15,"b":12},
{"m":"NRF1","p":4,"l":"G","k":100,"b":0},{"m":"NRF1","p":3,"l":"C","k":100,"b":0},{"m":"NRF1","p":3,"l":"T","k":8,"b":0},{"m":"NRF1","p":2,"l":"G","k":100,"b":0},{"m":"NRF1","p":2,"l":"T","k":8,"b":0},{"m":"NRF1","p":1,"l":"C","k":100,"b":0},{"m":"NRF1","p":1,"l":"T","k":8,"b":0},
{"m":"SP1","p":12,"l":"G","k":60,"b":42},{"m":"SP1","p":12,"l":"T","k":8,"b":0},{"m":"SP1","p":12,"l":"A","k":25,"b":4},{"m":"SP1","p":12,"l":"C","k":25,"b":22},
{"m":"SP1","p":11,"l":"G","k":100,"b":0},{"m":"SP1","p":11,"l":"A","k":8,"b":0},
{"m":"SP1","p":10,"l":"C","k":100,"b":0},{"m":"SP1","p":10,"l":"T","k":8,"b":0},{"m":"SP1","p":10,"l":"G","k":8,"b":6},
{"m":"SP1","p":9,"l":"C","k":80,"b":18},{"m":"SP1","p":9,"l":"T","k":15,"b":3},{"m":"SP1","p":9,"l":"A","k":8,"b":0},
{"m":"SP1","p":8,"l":"C","k":100,"b":0},{"m":"SP1","p":8,"l":"A","k":8,"b":0},{"m":"SP1","p":7,"l":"C","k":100,"b":0},
{"m":"SP1","p":6,"l":"G","k":100,"b":0},{"m":"SP1","p":6,"l":"A","k":8,"b":0},{"m":"SP1","p":5,"l":"C","k":100,"b":0},{"m":"SP1","p":4,"l":"C","k":100,"b":0},
{"m":"SP1","p":3,"l":"C","k":100,"b":0},{"m":"SP1","p":3,"l":"T","k":15,"b":0},
{"m":"SP1","p":2,"l":"C","k":80,"b":18},{"m":"SP1","p":2,"l":"T","k":8,"b":0},{"m":"SP1","p":2,"l":"A","k":15,"b":6},
{"m":"SP1","p":1,"l":"C","k":60,"b":42},{"m":"SP1","p":1,"l":"G","k":25,"b":3},{"m":"SP1","p":1,"l":"T","k":25,"b":25},
{"m":"PBX3","p":12,"l":"T","k":8,"b":0},{"m":"PBX3","p":12,"l":"A","k":15,"b":10},{"m":"PBX3","p":12,"l":"G","k":40,"b":25},{"m":"PBX3","p":12,"l":"C","k":40,"b":58},
{"m":"PBX3","p":11,"l":"C","k":80,"b":20},{"m":"PBX3","p":11,"l":"T","k":8,"b":0},{"m":"PBX3","p":11,"l":"A","k":15,"b":5},{"m":"PBX3","p":11,"l":"G","k":15,"b":16},
{"m":"PBX3","p":10,"l":"T","k":100,"b":0},{"m":"PBX3","p":10,"l":"A","k":8,"b":0},{"m":"PBX3","p":10,"l":"C","k":8,"b":4},
{"m":"PBX3","p":9,"l":"G","k":100,"b":0},
{"m":"PBX3","p":8,"l":"T","k":80,"b":20},{"m":"PBX3","p":8,"l":"C","k":25,"b":0},
{"m":"PBX3","p":7,"l":"C","k":100,"b":0},
{"m":"PBX3","p":6,"l":"A","k":100,"b":0},{"m":"PBX3","p":6,"l":"G","k":8,"b":3},
{"m":"PBX3","p":5,"l":"G","k":25,"b":0},{"m":"PBX3","p":5,"l":"C","k":40,"b":20},{"m":"PBX3","p":5,"l":"A","k":40,"b":60},
{"m":"PBX3","p":4,"l":"T","k":100,"b":0},{"m":"PBX3","p":3,"l":"C","k":100,"b":0},
{"m":"PBX3","p":2,"l":"A","k":100,"b":0},{"m":"PBX3","p":2,"l":"C","k":8,"b":0},{"m":"PBX3","p":2,"l":"T","k":8,"b":5},
{"m":"PBX3","p":1,"l":"T","k":15,"b":0},{"m":"PBX3","p":1,"l":"G","k":25,"b":19},{"m":"PBX3","p":1,"l":"C","k":25,"b":40},{"m":"PBX3","p":1,"l":"A","k":25,"b":72},
{"m":"KLF9","p":12,"l":"G","k":80,"b":15},{"m":"KLF9","p":12,"l":"A","k":15,"b":3},{"m":"KLF9","p":12,"l":"C","k":8,"b":0},
{"m":"KLF9","p":11,"l":"C","k":80,"b":18},{"m":"KLF9","p":11,"l":"G","k":8,"b":0},{"m":"KLF9","p":11,"l":"A","k":15,"b":5},
{"m":"KLF9","p":10,"l":"C","k":100,"b":0},
{"m":"KLF9","p":9,"l":"A","k":80,"b":20},{"m":"KLF9","p":9,"l":"C","k":25,"b":0},
{"m":"KLF9","p":8,"l":"C","k":100,"b":0},
{"m":"KLF9","p":7,"l":"G","k":60,"b":42},{"m":"KLF9","p":7,"l":"A","k":40,"b":4},{"m":"KLF9","p":7,"l":"T","k":8,"b":0},
{"m":"KLF9","p":6,"l":"C","k":100,"b":0},{"m":"KLF9","p":5,"l":"C","k":100,"b":0},{"m":"KLF9","p":4,"l":"C","k":100,"b":0},
{"m":"KLF9","p":3,"l":"A","k":80,"b":22},{"m":"KLF9","p":3,"l":"T","k":8,"b":0},{"m":"KLF9","p":3,"l":"C","k":25,"b":4},
{"m":"KLF9","p":2,"l":"C","k":100,"b":0},{"m":"KLF9","p":2,"l":"T","k":8,"b":0},
{"m":"KLF9","p":1,"l":"G","k":8,"b":0},{"m":"KLF9","p":1,"l":"A","k":15,"b":4},{"m":"KLF9","p":1,"l":"C","k":40,"b":18},{"m":"KLF9","p":1,"l":"T","k":40,"b":60},
{"m":"SP5","p":12,"l":"C","k":8,"b":0},{"m":"SP5","p":12,"l":"T","k":25,"b":9},{"m":"SP5","p":12,"l":"G","k":25,"b":32},{"m":"SP5","p":12,"l":"A","k":40,"b":60},
{"m":"SP5","p":11,"l":"G","k":80,"b":20},{"m":"SP5","p":11,"l":"C","k":8,"b":0},{"m":"SP5","p":11,"l":"A","k":15,"b":11},
{"m":"SP5","p":10,"l":"T","k":60,"b":42},{"m":"SP5","p":10,"l":"A","k":15,"b":0},{"m":"SP5","p":10,"l":"G","k":40,"b":12},
{"m":"SP5","p":9,"l":"G","k":80,"b":16},{"m":"SP5","p":9,"l":"A","k":15,"b":0},
{"m":"SP5","p":8,"l":"G","k":100,"b":0},{"m":"SP5","p":7,"l":"G","k":100,"b":0},
{"m":"SP5","p":6,"l":"C","k":80,"b":22},{"m":"SP5","p":6,"l":"A","k":8,"b":0},{"m":"SP5","p":6,"l":"T","k":15,"b":8},
{"m":"SP5","p":5,"l":"G","k":100,"b":0},
{"m":"SP5","p":4,"l":"G","k":100,"b":0},{"m":"SP5","p":4,"l":"T","k":8,"b":0},
{"m":"SP5","p":3,"l":"A","k":60,"b":34},{"m":"SP5","p":3,"l":"T","k":8,"b":0},{"m":"SP5","p":3,"l":"G","k":25,"b":4},
{"m":"SP5","p":2,"l":"G","k":80,"b":16},{"m":"SP5","p":2,"l":"C","k":8,"b":0},{"m":"SP5","p":2,"l":"A","k":8,"b":6},
{"m":"SP5","p":1,"l":"C","k":80,"b":22},{"m":"SP5","p":1,"l":"A","k":15,"b":0},{"m":"SP5","p":1,"l":"T","k":15,"b":14},
{"m":"NANOG","p":10,"l":"G","k":60,"b":42},{"m":"NANOG","p":10,"l":"A","k":40,"b":8},{"m":"NANOG","p":10,"l":"T","k":8,"b":0},
{"m":"NANOG","p":9,"l":"G","k":60,"b":42},{"m":"NANOG","p":9,"l":"T","k":8,"b":0},{"m":"NANOG","p":9,"l":"A","k":8,"b":4},{"m":"NANOG","p":9,"l":"C","k":25,"b":15},
{"m":"NANOG","p":8,"l":"C","k":80,"b":22},{"m":"NANOG","p":8,"l":"T","k":25,"b":0},
{"m":"NANOG","p":7,"l":"C","k":60,"b":38},{"m":"NANOG","p":7,"l":"T","k":8,"b":0},{"m":"NANOG","p":7,"l":"A","k":25,"b":8},
{"m":"NANOG","p":6,"l":"A","k":100,"b":0},{"m":"NANOG","p":6,"l":"T","k":8,"b":0},
{"m":"NANOG","p":5,"l":"T","k":100,"b":0},
{"m":"NANOG","p":4,"l":"T","k":60,"b":38},{"m":"NANOG","p":4,"l":"C","k":40,"b":0},
{"m":"NANOG","p":3,"l":"A","k":80,"b":20},{"m":"NANOG","p":3,"l":"T","k":8,"b":0},{"m":"NANOG","p":3,"l":"C","k":15,"b":10},
{"m":"NANOG","p":2,"l":"A","k":60,"b":40},{"m":"NANOG","p":2,"l":"T","k":8,"b":0},{"m":"NANOG","p":2,"l":"C","k":15,"b":6},{"m":"NANOG","p":2,"l":"G","k":25,"b":17},
{"m":"NANOG","p":1,"l":"C","k":60,"b":42},{"m":"NANOG","p":1,"l":"T","k":8,"b":0},{"m":"NANOG","p":1,"l":"A","k":15,"b":10},{"m":"NANOG","p":1,"l":"G","k":25,"b":28},
{"m":"TWIST2","p":10,"l":"G","k":15,"b":0},{"m":"TWIST2","p":10,"l":"A","k":40,"b":20},{"m":"TWIST2","p":10,"l":"C","k":40,"b":56},
{"m":"TWIST2","p":9,"l":"C","k":100,"b":0},{"m":"TWIST2","p":8,"l":"A","k":100,"b":0},
{"m":"TWIST2","p":7,"l":"G","k":80,"b":22},{"m":"TWIST2","p":7,"l":"T","k":25,"b":0},
{"m":"TWIST2","p":6,"l":"A","k":40,"b":0},{"m":"TWIST2","p":6,"l":"C","k":60,"b":38},
{"m":"TWIST2","p":5,"l":"T","k":100,"b":0},{"m":"TWIST2","p":4,"l":"G","k":100,"b":0},
{"m":"TWIST2","p":3,"l":"C","k":25,"b":0},{"m":"TWIST2","p":3,"l":"G","k":25,"b":27},{"m":"TWIST2","p":3,"l":"T","k":40,"b":58},
{"m":"TWIST2","p":2,"l":"G","k":8,"b":0},{"m":"TWIST2","p":2,"l":"A","k":15,"b":7},{"m":"TWIST2","p":2,"l":"C","k":25,"b":25},{"m":"TWIST2","p":2,"l":"T","k":40,"b":56},
{"m":"TWIST2","p":1,"l":"G","k":15,"b":0},{"m":"TWIST2","p":1,"l":"A","k":25,"b":15},{"m":"TWIST2","p":1,"l":"T","k":25,"b":39},{"m":"TWIST2","p":1,"l":"C","k":40,"b":62},
{"m":"CTCF","p":20,"l":"T","k":15,"b":0},{"m":"CTCF","p":20,"l":"G","k":25,"b":15},{"m":"CTCF","p":20,"l":"C","k":25,"b":33},{"m":"CTCF","p":20,"l":"A","k":40,"b":56},
{"m":"CTCF","p":19,"l":"A","k":8,"b":0},{"m":"CTCF","p":19,"l":"G","k":25,"b":4},{"m":"CTCF","p":19,"l":"C","k":40,"b":28},{"m":"CTCF","p":19,"l":"T","k":40,"b":62},
{"m":"CTCF","p":18,"l":"A","k":60,"b":42},{"m":"CTCF","p":18,"l":"C","k":8,"b":0},{"m":"CTCF","p":18,"l":"T","k":15,"b":6},{"m":"CTCF","p":18,"l":"G","k":40,"b":17},
{"m":"CTCF","p":17,"l":"G","k":60,"b":42},{"m":"CTCF","p":17,"l":"T","k":8,"b":2},{"m":"CTCF","p":17,"l":"C","k":40,"b":10},
{"m":"CTCF","p":16,"l":"A","k":8,"b":0},{"m":"CTCF","p":16,"l":"C","k":40,"b":8},{"m":"CTCF","p":16,"l":"T","k":60,"b":42},
{"m":"CTCF","p":15,"l":"G","k":100,"b":0},{"m":"CTCF","p":15,"l":"T","k":8,"b":0},{"m":"CTCF","p":15,"l":"A","k":8,"b":4},
{"m":"CTCF","p":14,"l":"C","k":100,"b":0},{"m":"CTCF","p":14,"l":"A","k":8,"b":0},
{"m":"CTCF","p":13,"l":"C","k":100,"b":0},
{"m":"CTCF","p":12,"l":"C","k":40,"b":2},{"m":"CTCF","p":12,"l":"A","k":60,"b":42},
{"m":"CTCF","p":11,"l":"T","k":40,"b":2},{"m":"CTCF","p":11,"l":"C","k":60,"b":42},
{"m":"CTCF","p":10,"l":"C","k":100,"b":0},
{"m":"CTCF","p":9,"l":"T","k":100,"b":0},{"m":"CTCF","p":9,"l":"C","k":8,"b":0},
{"m":"CTCF","p":8,"l":"G","k":60,"b":42},{"m":"CTCF","p":8,"l":"C","k":8,"b":0},{"m":"CTCF","p":8,"l":"T","k":8,"b":6},{"m":"CTCF","p":8,"l":"A","k":40,"b":16},
{"m":"CTCF","p":7,"l":"G","k":80,"b":22},{"m":"CTCF","p":7,"l":"T","k":8,"b":0},{"m":"CTCF","p":7,"l":"C","k":25,"b":5},
{"m":"CTCF","p":6,"l":"T","k":100,"b":0},{"m":"CTCF","p":6,"l":"C","k":8,"b":0},{"m":"CTCF","p":6,"l":"A","k":8,"b":4},
{"m":"CTCF","p":5,"l":"G","k":100,"b":0},
{"m":"CTCF","p":4,"l":"G","k":100,"b":0},{"m":"CTCF","p":4,"l":"A","k":8,"b":0},{"m":"CTCF","p":4,"l":"T","k":8,"b":6},
{"m":"CTCF","p":3,"l":"C","k":60,"b":42},{"m":"CTCF","p":3,"l":"G","k":8,"b":0},{"m":"CTCF","p":3,"l":"A","k":15,"b":6},{"m":"CTCF","p":3,"l":"T","k":25,"b":23},
{"m":"CTCF","p":2,"l":"G","k":15,"b":0},{"m":"CTCF","p":2,"l":"T","k":15,"b":12},{"m":"CTCF","p":2,"l":"A","k":25,"b":29},{"m":"CTCF","p":2,"l":"C","k":40,"b":56},
{"m":"CTCF","p":1,"l":"C","k":8,"b":0},{"m":"CTCF","p":1,"l":"T","k":8,"b":10},{"m":"CTCF","p":1,"l":"G","k":25,"b":19},{"m":"CTCF","p":1,"l":"A","k":60,"b":42}
]}}
